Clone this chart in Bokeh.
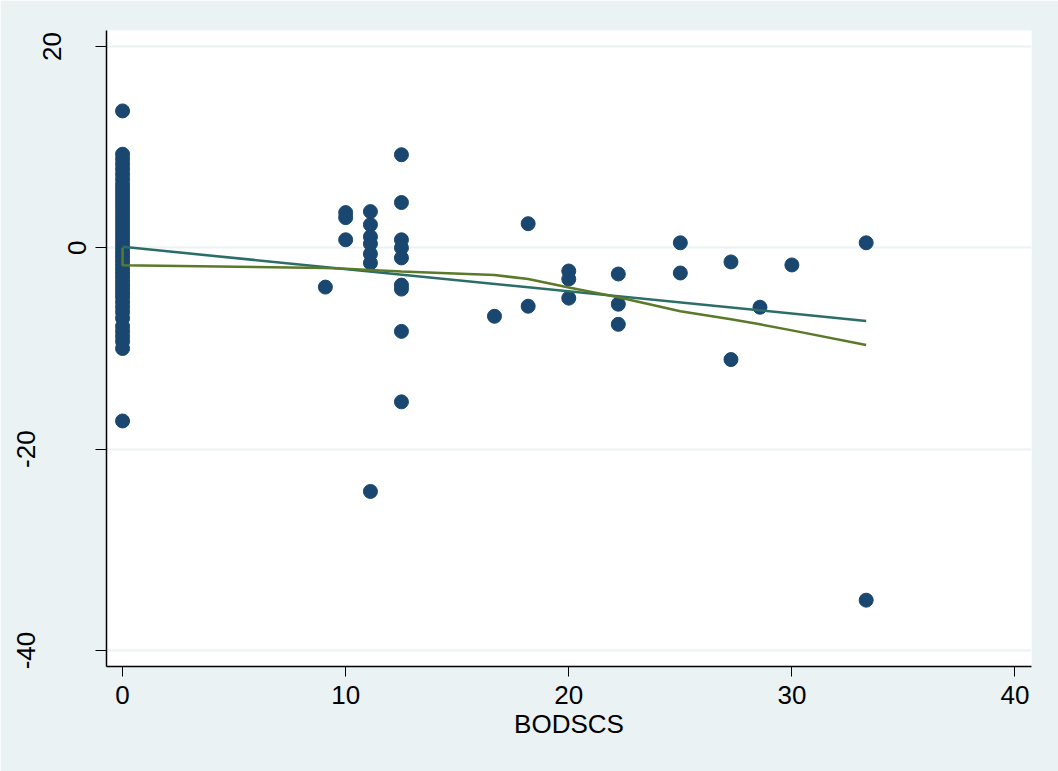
from bokeh.plotting import figure
from bokeh.models import Range1d, FixedTicker
from bokeh.embed import file_html
from bokeh.resources import INLINE

# ---------------- data ----------------
# residuals for observations with BODSCS = 0
zero_y = [13.6, 9.3, 8.8, 8.3, 7.8, 7.3, 6.8, 6.3, 5.9, 5.5, 5.1, 4.7, 4.3, 3.9,
          3.5, 3.1, 2.7, 2.3, 1.9, 1.5, 1.1, 0.7, 0.3, -0.1, -0.5, -0.9, -1.3,
          -1.7, -2.1, -2.5, -2.9, -3.3, -3.7, -4.1, -4.5, -4.9, -5.4, -5.9,
          -6.4, -7.0, -7.8, -8.3, -8.8, -9.3, -10.0, -17.2]

other_x = [9.09,
           10, 10, 10,
           11.11, 11.11, 11.11, 11.11, 11.11, 11.11, 11.11,
           12.5, 12.5, 12.5, 12.5, 12.5, 12.5, 12.5, 12.5, 12.5,
           16.67,
           18.18, 18.18,
           20, 20, 20,
           22.22, 22.22, 22.22,
           25, 25,
           27.27, 27.27,
           28.57,
           30,
           33.33, 33.33]
other_y = [-3.9,
           3.5, 3.0, 0.8,
           3.6, 2.3, 1.1, 0.4, -0.6, -1.5, -24.2,
           9.25, 4.5, 0.8, 0.0, -1.0, -3.7, -4.1, -8.3, -15.3,
           -6.8,
           2.4, -5.8,
           -2.3, -3.1, -5.0,
           -2.6, -5.6, -7.6,
           0.5, -2.5,
           -1.4, -11.1,
           -5.9,
           -1.7,
           0.5, -35.0]

# linear fit (endpoints of fitted values)
fit_x = [0, 33.33]
fit_y = [0.1, -7.26]

# lowess smooth
lowess_x = [0, 0, 9.09, 10, 11.11, 12.5, 16.67, 18.18, 20, 22.22, 25, 27.27, 28.57, 30, 33.33]
lowess_y = [0.0, -1.72, -2.0, -2.08, -2.2, -2.35, -2.7, -3.1, -3.95, -4.9, -6.3, -7.1, -7.6, -8.2, -9.65]

x_ticks = [0, 10, 20, 30, 40]
y_ticks = [-40, -20, 0, 20]
y_tick_text = ["-40", "-20", "0", "20"]

# ---------------- styling ----------------
BG = "#EAF2F3"
NAVY = "#1a476f"
TEAL = "#2b6d67"
OLIVE = "#5a7a2a"
FONT = "Liberation Sans"
FS = "26px"
# the reference shifts each rotated y label outward by its length; reproduce with blank trailing lines
ylab_pad = {"-40": 2, "-20": 2, "0": 0, "20": 1}

all_x = [0] * len(zero_y) + other_x
all_y = zero_y + other_y

p = figure(width=1058, height=771,
           x_range=Range1d(-0.72, 40.74), y_range=Range1d(-41.59, 21.59),
           output_backend="svg", toolbar_location=None,
           min_border_left=106, min_border_right=27,
           min_border_top=30, min_border_bottom=105,
           background_fill_color="white", border_fill_color=BG,
           outline_line_color=None)

p.scatter(all_x, all_y, size=14, fill_color=NAVY, line_color=NAVY)
p.line(fit_x, fit_y, line_color=TEAL, line_width=2.5)
p.line(lowess_x, lowess_y, line_color=OLIVE, line_width=2.5)

# x axis
p.xaxis.ticker = FixedTicker(ticks=x_ticks)
p.xaxis.axis_label = "BODSCS"
p.xaxis.axis_label_text_font = FONT
p.xaxis.axis_label_text_font_size = FS
p.xaxis.axis_label_text_font_style = "normal"
p.xaxis.axis_label_standoff = 2
p.xaxis.major_label_text_font = FONT
p.xaxis.major_label_text_font_size = FS
p.xaxis.major_label_standoff = 9
p.xaxis.major_tick_out = 10
p.xaxis.major_tick_in = 0
p.xaxis.minor_tick_out = 0
p.xaxis.minor_tick_in = 0
p.xaxis.axis_line_width = 1.5
p.xaxis.axis_line_color = "black"
p.xaxis.major_tick_line_color = "black"
p.xaxis.major_label_text_color = "black"
p.xaxis.axis_label_text_color = "black"

# y axis
p.yaxis.ticker = FixedTicker(ticks=y_ticks)
p.yaxis.major_label_overrides = {v: t + "\n" * ylab_pad[t] for v, t in zip(y_ticks, y_tick_text)}
p.yaxis.major_label_orientation = "vertical"
p.yaxis.major_label_text_font = FONT
p.yaxis.major_label_text_font_size = FS
p.yaxis.major_label_text_line_height = 0.85
p.yaxis.major_label_text_color = "black"
p.yaxis.major_label_standoff = 3
p.yaxis.major_tick_out = 11
p.yaxis.major_tick_in = 0
p.yaxis.minor_tick_out = 0
p.yaxis.minor_tick_in = 0
p.yaxis.axis_line_width = 1.5
p.yaxis.axis_line_color = "black"
p.yaxis.major_tick_line_color = "black"

p.xgrid.visible = False
p.ygrid.grid_line_color = BG
p.ygrid.grid_line_width = 2

open("out.html", "w").write(file_html(p, INLINE))
